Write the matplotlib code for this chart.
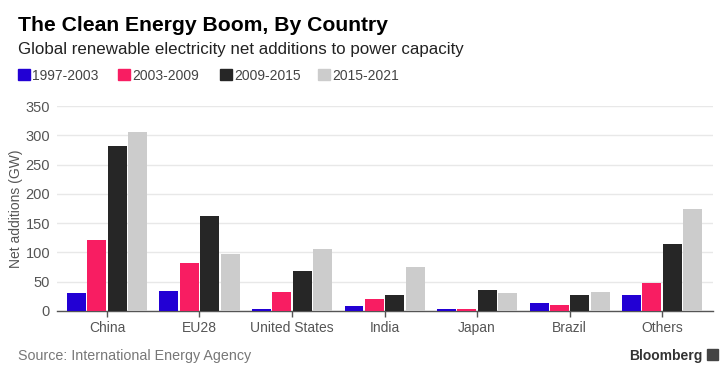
import numpy as np
import matplotlib
matplotlib.use("Agg")
import matplotlib.pyplot as plt
from matplotlib.patches import Rectangle

# Chart data (GW)
countries = ["China", "EU28", "United States", "India", "Japan", "Brazil", "Others"]
periods = ["1997-2003", "2003-2009", "2009-2015", "2015-2021"]
v_1997_2003 = [30, 35, 4, 9, 4, 14, 28]
v_2003_2009 = [121, 82, 32, 21, 3, 11, 47]
v_2009_2015 = [282, 163, 68, 28, 36, 27, 115]
v_2015_2021 = [305, 98, 106, 75, 31, 33, 175]
y_ticks = [0, 50, 100, 150, 200, 250, 300, 350]

colors = ["#2200d4", "#f81d62", "#262626", "#cccccc"]

plt.rcParams["font.family"] = ["Liberation Sans", "DejaVu Sans"]

fig = plt.figure(figsize=(7.26, 3.80), dpi=100)
ax = fig.add_axes([57 / 726, 1 - 311 / 380, (713 - 57) / 726, (311 - 106) / 380])

x = np.arange(len(countries))
step = 0.22
width = 0.205
series = [v_1997_2003, v_2003_2009, v_2009_2015, v_2015_2021]
for i, (vals, col) in enumerate(zip(series, colors)):
    ax.bar(x + (i - 1.5) * step, vals, width=width, color=col, zorder=3)

ax.set_xlim(-0.54, 6.55)
ax.set_ylim(0, 350)
ax.set_yticks(y_ticks)
ax.set_xticks(x)
ax.set_xticklabels(countries)
ax.grid(axis="y", color="#e8e8e8", linewidth=1, zorder=0)
ax.set_axisbelow(True)

for side in ["top", "right", "left"]:
    ax.spines[side].set_visible(False)
ax.spines["bottom"].set_color("#555555")
ax.spines["bottom"].set_linewidth(1)
ax.tick_params(axis="y", length=0, pad=5, labelsize=10.5, labelcolor="#555555")
ax.tick_params(axis="x", length=4, width=1, color="#555555", pad=3,
               labelsize=10, labelcolor="#555555")
ax.set_ylabel("Net additions (GW)", fontsize=10, color="#555555", labelpad=2)

# Title, subtitle
fig.text(18 / 726, 1 - 31 / 380, "The Clean Energy Boom, By Country",
         fontsize=15.2, fontweight="bold", color="#000000")
fig.text(18 / 726, 1 - 54 / 380, "Global renewable electricity net additions to power capacity",
         fontsize=12.2, color="#222222")

# Legend row
legend_x = [18, 118, 220, 318]
for px, lab, col in zip(legend_x, periods, colors):
    fig.patches.append(Rectangle((px / 726, 1 - 80 / 380), 12 / 726, 11 / 380,
                                 transform=fig.transFigure, color=col))
    fig.text((px + 14) / 726, 1 - 80 / 380, lab, fontsize=10, color="#444444")

# Footer
fig.text(18 / 726, 1 - 360 / 380, "Source: International Energy Agency",
         fontsize=10.3, color="#777777")
fig.text(703 / 726, 1 - 360 / 380, "Bloomberg", fontsize=10, fontweight="bold",
         color="#333333", ha="right")
fig.patches.append(Rectangle((707 / 726, 1 - 360 / 380), 11 / 726, 11 / 380,
                             transform=fig.transFigure, color="#444444"))

fig.savefig("out.png", dpi=100)
